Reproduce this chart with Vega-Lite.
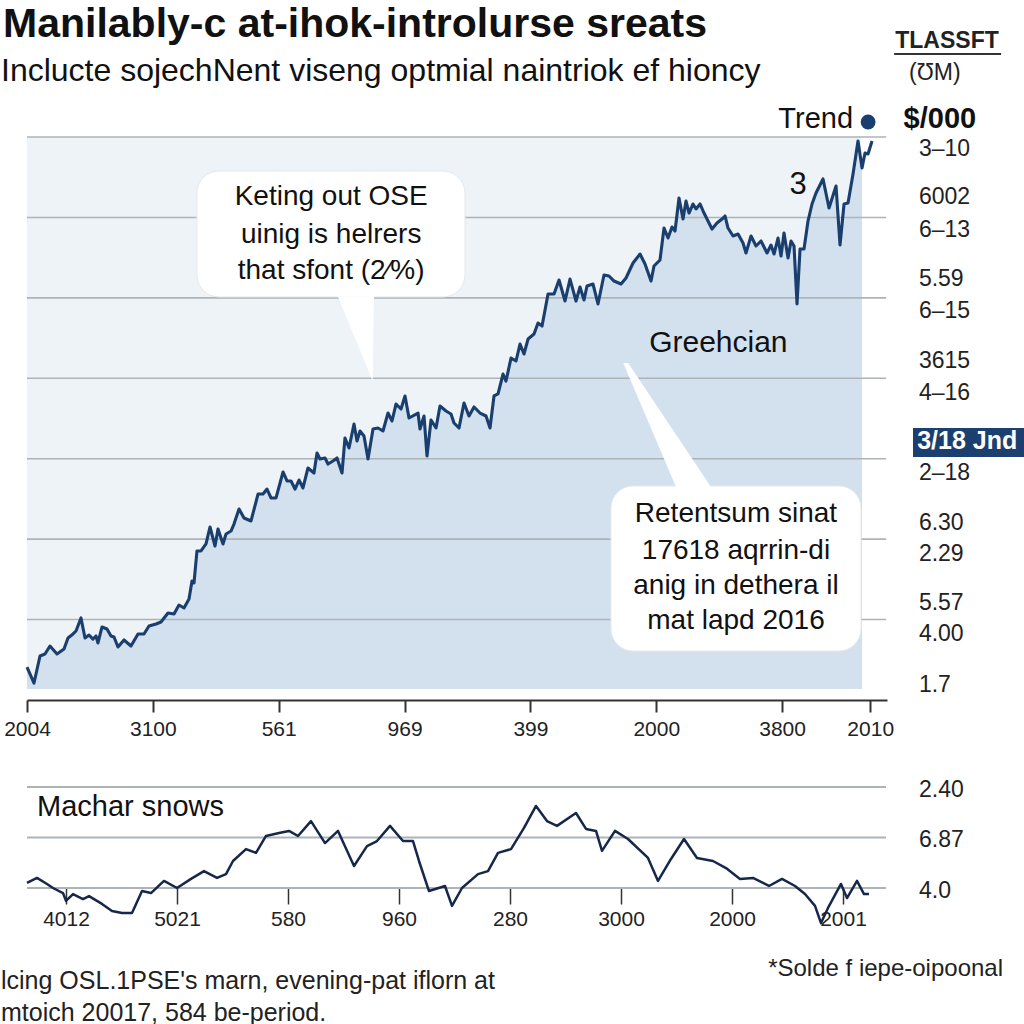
{
  "$schema": "https://vega.github.io/schema/vega-lite/v6.json",
  "padding": 0,
  "autosize": {"type": "pad"},
  "background": "white",
  "bounds": "flush",
  "spacing": 87,
  "config": {"view": {"stroke": null}, "font": "Liberation Sans"},
  "datasets": {
    "main": [
      {"t":0,"v":41},{"t":1.67,"v":21.1},{"t":3.1,"v":54.7},{"t":4.29,"v":57.2},{"t":5.48,"v":67.1},{"t":7.15,"v":57.2},{"t":8.82,"v":63.4},{"t":9.77,"v":77.1},{"t":10.97,"v":82.1},{"t":11.68,"v":85.8},{"t":12.87,"v":102},{"t":13.83,"v":77.1},{"t":14.78,"v":80.8},{"t":15.73,"v":75.8},{"t":16.45,"v":79.6},{"t":16.92,"v":70.9},{"t":17.88,"v":90.8},{"t":19.07,"v":88.3},{"t":20.02,"v":79.6},{"t":20.74,"v":78.3},{"t":21.69,"v":65.9},{"t":23.12,"v":74.6},{"t":24.79,"v":67.1},{"t":26.46,"v":82.1},{"t":27.89,"v":82.1},{"t":29.08,"v":92},{"t":30.75,"v":94.5},{"t":31.94,"v":97},{"t":33.61,"v":108.2},{"t":35.04,"v":106.9},{"t":36.23,"v":118.1},{"t":37.43,"v":114.4},{"t":38.62,"v":125.6},{"t":39.33,"v":148},{"t":39.81,"v":145.5},{"t":40.52,"v":185.3},{"t":41.48,"v":185.3},{"t":42.67,"v":194},{"t":43.62,"v":215.1},{"t":44.82,"v":191.5},{"t":45.53,"v":212.6},{"t":46.72,"v":194},{"t":47.44,"v":206.4},{"t":48.63,"v":210.1},{"t":49.34,"v":218.8},{"t":50.54,"v":237.5},{"t":51.73,"v":226.3},{"t":53.4,"v":222.6},{"t":55.07,"v":256.1},{"t":56.26,"v":256.1},{"t":57.21,"v":262.3},{"t":58.16,"v":251.2},{"t":59.36,"v":251.2},{"t":61.03,"v":283.5},{"t":61.98,"v":272.3},{"t":62.93,"v":272.3},{"t":63.89,"v":262.3},{"t":64.84,"v":273.5},{"t":65.79,"v":263.6},{"t":66.98,"v":288.5},{"t":68.41,"v":282.2},{"t":69.13,"v":307.1},{"t":69.84,"v":299.6},{"t":71.04,"v":300.9},{"t":71.75,"v":293.4},{"t":72.94,"v":297.2},{"t":73.9,"v":300.9},{"t":75.09,"v":282.2},{"t":75.8,"v":325.8},{"t":76.76,"v":313.3},{"t":77.95,"v":343.2},{"t":78.66,"v":322},{"t":79.38,"v":334.5},{"t":80.33,"v":328.2},{"t":81.29,"v":299.6},{"t":82.48,"v":336.9},{"t":83.67,"v":338.2},{"t":84.86,"v":334.5},{"t":86.06,"v":356.8},{"t":87.01,"v":346.9},{"t":87.96,"v":368},{"t":89.15,"v":361.8},{"t":90.11,"v":378},{"t":91.06,"v":350.6},{"t":93.21,"v":356.8},{"t":93.68,"v":336.9},{"t":94.64,"v":353.1},{"t":95.35,"v":303.4},{"t":96.31,"v":348.1},{"t":97.5,"v":338.2},{"t":98.45,"v":365.5},{"t":99.88,"v":359.3},{"t":101.07,"v":355.6},{"t":101.79,"v":344.4},{"t":102.98,"v":338.2},{"t":104.17,"v":369.3},{"t":105.36,"v":353.1},{"t":106.56,"v":364.3},{"t":107.99,"v":356.8},{"t":109.42,"v":353.1},{"t":110.37,"v":338.2},{"t":111.32,"v":378},{"t":112.28,"v":380.5},{"t":113.47,"v":405.3},{"t":114.18,"v":396.6},{"t":115.38,"v":425.2},{"t":116.57,"v":421.5},{"t":117.52,"v":442.6},{"t":118.47,"v":430.2},{"t":119.43,"v":448.8},{"t":120.86,"v":455.1},{"t":121.81,"v":468.7},{"t":122.77,"v":465},{"t":124.2,"v":504.8},{"t":125.63,"v":504.8},{"t":126.82,"v":522.2},{"t":128.25,"v":496.1},{"t":129.44,"v":523.4},{"t":130.87,"v":496.1},{"t":131.82,"v":513.5},{"t":132.78,"v":497.3},{"t":133.49,"v":514.7},{"t":134.92,"v":517.2},{"t":136.11,"v":492.4},{"t":137.54,"v":528.4},{"t":138.74,"v":527.2},{"t":139.93,"v":520.9},{"t":141.6,"v":517.2},{"t":142.79,"v":524.7},{"t":144.46,"v":543.3},{"t":146.13,"v":554.5},{"t":147.32,"v":542.1},{"t":148.75,"v":520.9},{"t":149.46,"v":539.6},{"t":150.89,"v":547.1},{"t":151.85,"v":586.8},{"t":152.8,"v":574.4},{"t":153.75,"v":588.1},{"t":154.47,"v":583.1},{"t":155.42,"v":624.1},{"t":156.38,"v":598},{"t":157.09,"v":620.4},{"t":157.81,"v":605.5},{"t":158.76,"v":616.7},{"t":159.48,"v":610.5},{"t":160.43,"v":616.7},{"t":161.38,"v":605.5},{"t":163.29,"v":585.6},{"t":164.48,"v":593.1},{"t":165.67,"v":598},{"t":166.39,"v":601.8},{"t":167.1,"v":586.8},{"t":168.3,"v":576.9},{"t":169.49,"v":579.4},{"t":170.68,"v":568.2},{"t":171.39,"v":555.8},{"t":172.59,"v":576.9},{"t":173.78,"v":564.5},{"t":174.97,"v":570.7},{"t":176.4,"v":555.8},{"t":177.35,"v":565.7},{"t":178.07,"v":554.5},{"t":179.02,"v":574.4},{"t":179.74,"v":552},{"t":180.45,"v":580.6},{"t":181.41,"v":549.5},{"t":182.12,"v":570.7},{"t":182.84,"v":564.5},{"t":183.55,"v":492.4},{"t":184.27,"v":560.7},{"t":185.22,"v":560.7},{"t":186.17,"v":595.5},{"t":187.13,"v":616.7},{"t":188.08,"v":630.4},{"t":189.75,"v":647.8},{"t":191.18,"v":611.7},{"t":192.85,"v":639.1},{"t":193.8,"v":565.7},{"t":194.76,"v":616.7},{"t":195.71,"v":617.9},{"t":196.9,"v":654},{"t":198.09,"v":695},{"t":199.05,"v":661.4},{"t":199.76,"v":680.1},{"t":200.48,"v":678.9},{"t":201.43,"v":695}
    ],
    "sub": [
      {"u":0,"w":22},{"u":1,"w":24},{"u":2,"w":21.6},{"u":2.6,"w":20},{"u":3.6,"w":18},{"u":3.9,"w":14.9},{"u":4.6,"w":17.6},{"u":5.6,"w":15.6},{"u":6.2,"w":16.8},{"u":7.5,"w":13.7},{"u":8.5,"w":10.9},{"u":9.5,"w":10.1},{"u":10.5,"w":10.1},{"u":11.5,"w":18.8},{"u":12.4,"w":18},{"u":13.7,"w":22.8},{"u":15,"w":20},{"u":16.4,"w":23.6},{"u":17.7,"w":26.7},{"u":19,"w":24},{"u":19.9,"w":25.5},{"u":20.6,"w":30.7},{"u":21.9,"w":35.4},{"u":22.9,"w":33.9},{"u":23.9,"w":40.6},{"u":25.2,"w":41.8},{"u":26.2,"w":42.6},{"u":27.1,"w":40.6},{"u":28.4,"w":46.5},{"u":29.8,"w":37.8},{"u":31.1,"w":42.6},{"u":32.7,"w":28.7},{"u":34,"w":36.6},{"u":35,"w":38.6},{"u":36.3,"w":44.6},{"u":37.6,"w":38.6},{"u":38.6,"w":38.6},{"u":39.2,"w":30.7},{"u":40.2,"w":18.8},{"u":41.8,"w":20.8},{"u":42.5,"w":12.9},{"u":43.5,"w":20},{"u":45.1,"w":25.5},{"u":46.1,"w":26.7},{"u":47.1,"w":33.9},{"u":48.4,"w":35.4},{"u":49.7,"w":43.8},{"u":50.9,"w":52.5},{"u":52,"w":46.5},{"u":53,"w":44.6},{"u":54.9,"w":49.7},{"u":55.9,"w":43.4},{"u":56.9,"w":42.6},{"u":57.5,"w":34.7},{"u":58.8,"w":42.6},{"u":60.1,"w":39.4},{"u":62.1,"w":31.9},{"u":63.1,"w":22.8},{"u":64.4,"w":31.5},{"u":65.7,"w":39.4},{"u":67,"w":31.9},{"u":68.6,"w":30.7},{"u":69.9,"w":27.9},{"u":71.3,"w":23.6},{"u":72.6,"w":24},{"u":74.2,"w":20.8},{"u":75.5,"w":23.6},{"u":76.8,"w":20.8},{"u":77.8,"w":17.6},{"u":78.8,"w":12.9},{"u":79.4,"w":6.1},{"u":80.1,"w":12.1},{"u":81.4,"w":21.6},{"u":82,"w":16},{"u":83,"w":22.8},{"u":83.7,"w":17.6},{"u":84.2,"w":17.6}
    ]
  },
  "vconcat": [
    {
      "width": 860,
      "height": 563,
      "encoding": {
        "x": {"field": "t", "type": "quantitative", "scale": {"domain": [0, 205], "nice": false, "zero": false},
          "axis": {"values": [0, 30, 60, 90, 120, 150, 180, 201], "title": null, "grid": false,
            "labelExpr": "datum.value < 10 ? '2004' : datum.value < 40 ? '3100' : datum.value < 70 ? '561' : datum.value < 100 ? '969' : datum.value < 130 ? '399' : datum.value < 160 ? '2000' : datum.value < 190 ? '3800' : '2010'",
            "domainColor": "#333", "domainWidth": 2, "tickColor": "#333", "tickWidth": 2, "tickSize": 12,
            "labelFontSize": 21, "labelColor": "#222", "labelPadding": 6, "labelFlush": false, "labelOverlap": false}},
        "y": {"field": "v", "type": "quantitative", "scale": {"domain": [0, 700], "nice": false, "zero": false}, "axis": null}
      },
      "layer": [
        {"data": {"values": [{"t": -6.198, "t2": 237.9, "v": 869.1, "v2": -404.1}]},
         "mark": {"type": "rect", "fill": "white", "opacity": 0},
         "encoding": {"x2": {"field": "t2"}, "y2": {"field": "v2"}}},
        {"data": {"values": [{"t": 0, "t2": 198.8, "v": 13.7, "v2": 700}]},
         "mark": {"type": "rect", "fill": "#eef3f8"},
         "encoding": {"x2": {"field": "t2"}, "y2": {"field": "v2"}}},
        {"data": {"name": "main"}, "transform": [{"filter": "datum.t <= 199.1"}],
         "mark": {"type": "area", "color": "#d3e1ef", "opacity": 1},
         "encoding": {"y2": {"datum": 13.7}}},
        {"data": {"values": [{"t": 0, "t2": 204.8, "v": 100}, {"t": 0, "t2": 204.8, "v": 200}, {"t": 0, "t2": 204.8, "v": 300}, {"t": 0, "t2": 204.8, "v": 400}, {"t": 0, "t2": 204.8, "v": 500}, {"t": 0, "t2": 204.8, "v": 600}, {"t": 0, "t2": 204.8, "v": 700}]},
         "mark": {"type": "rule", "color": "#aeb3b8", "strokeWidth": 1.6},
         "encoding": {"x2": {"field": "t2"}}},
        {"data": {"name": "main"},
         "mark": {"type": "line", "color": "#1a3f6e", "strokeWidth": 3.1, "strokeJoin": "round"},
         "encoding": {}},
        {"data": {"values": [{"t": 40.5, "t2": 104.4, "v": 657.7, "v2": 501.1}, {"t": 139.2, "t2": 198.8, "v": 266.1, "v2": 60.9}]},
         "mark": {"type": "rect", "fill": "white", "cornerRadius": 22, "stroke": "#e4e8ec", "strokeWidth": 1},
         "encoding": {"x2": {"field": "t2"}, "y2": {"field": "v2"}}},
        {"data": {"values": [{"t": 78.4, "v": 448.8}]},
         "mark": {"type": "point", "filled": true, "fill": "white", "opacity": 1, "strokeWidth": 0, "size": 7056, "shape": "M -0.43 -1.02 L 0.43 -1.02 L 0.4 1 Z"},
         "encoding": {}},
        {"data": {"values": [{"t": 152.1, "v": 342.5}]},
         "mark": {"type": "point", "filled": true, "fill": "white", "opacity": 1, "strokeWidth": 0, "size": 15129, "shape": "M -0.68 -1 L -0.6 -1 L 0.75 1.02 L 0.18 1.02 Z"},
         "encoding": {}},
        {"data": {"values": [{"t": 211.2, "t2": 237.9, "v": 338.2, "v2": 302.1}]},
         "mark": {"type": "rect", "fill": "#1b3f6e"},
         "encoding": {"x2": {"field": "t2"}, "y2": {"field": "v2"}}},
        {"data": {"values": [{"t": 200.5, "v": 718.6}]},
         "mark": {"type": "point", "filled": true, "color": "#1a3f6e", "opacity": 1, "size": 220, "shape": "circle"},
         "encoding": {}},
        {"data": {"values": [{"t": -5.72, "v": 839.2, "label": "Manilably-c at-ihok-introlurse sreats"}]},
         "mark": {"type": "text", "align": "left", "baseline": "middle", "fontSize": 41, "fontWeight": "bold", "color": "#111"},
         "encoding": {"text": {"field": "label"}}},
        {"data": {"values": [{"t": -6.2, "v": 782, "label": "Inclucte sojechNent viseng optmial naintriok ef hioncy"}]},
         "mark": {"type": "text", "align": "left", "baseline": "middle", "fontSize": 32, "color": "#111"},
         "encoding": {"text": {"field": "label"}}},
        {"data": {"values": [{"t": 219.3, "v": 819.3, "label": "TLASSFT"}]},
         "mark": {"type": "text", "align": "center", "baseline": "middle", "fontSize": 23, "fontWeight": "bold", "color": "#222"},
         "encoding": {"text": {"field": "label"}}},
        {"data": {"values": [{"t": 206.7, "t2": 232.2, "v": 803.2}]},
         "mark": {"type": "rule", "color": "#333", "strokeWidth": 2},
         "encoding": {"x2": {"field": "t2"}}},
        {"data": {"values": [{"t": 216.4, "v": 779.6, "label": "(ƱM)"}]},
         "mark": {"type": "text", "align": "center", "baseline": "middle", "fontSize": 23, "color": "#222"},
         "encoding": {"text": {"field": "label"}}},
        {"data": {"values": [{"t": 196.9, "v": 722.4, "label": "Trend"}]},
         "mark": {"type": "text", "align": "right", "baseline": "middle", "fontSize": 29, "color": "#111"},
         "encoding": {"text": {"field": "label"}}},
        {"data": {"values": [{"t": 217.6, "v": 722.4, "label": "$/000"}]},
         "mark": {"type": "text", "align": "center", "baseline": "middle", "fontSize": 29, "fontWeight": "bold", "color": "#111"},
         "encoding": {"text": {"field": "label"}}},
        {"data": {"values": [
          {"t": 212.6, "v": 685.1, "label": "3–10"}, {"t": 212.6, "v": 625.4, "label": "6002"}, {"t": 212.6, "v": 584.4, "label": "6–13"},
          {"t": 212.6, "v": 523.4, "label": "5.59"}, {"t": 212.6, "v": 483.6, "label": "6–15"}, {"t": 212.6, "v": 421.5, "label": "3615"},
          {"t": 212.6, "v": 381.7, "label": "4–16"}, {"t": 212.6, "v": 282.2, "label": "2–18"}, {"t": 212.6, "v": 220.1, "label": "6.30"},
          {"t": 212.6, "v": 181.5, "label": "2.29"}, {"t": 212.6, "v": 120.6, "label": "5.57"}, {"t": 212.6, "v": 82.1, "label": "4.00"},
          {"t": 212.6, "v": 18.6, "label": "1.7"}]},
         "mark": {"type": "text", "align": "left", "baseline": "middle", "fontSize": 23, "color": "#222"},
         "encoding": {"text": {"field": "label"}}},
        {"data": {"values": [{"t": 212.2, "v": 321.5, "label": "3/18 Jnd"}]},
         "mark": {"type": "text", "align": "left", "baseline": "middle", "fontSize": 25, "fontWeight": "bold", "color": "white"},
         "encoding": {"text": {"field": "label"}}},
        {"data": {"values": [
          {"t": 72.5, "v": 625.4, "label": "Keting out OSE"}, {"t": 72.5, "v": 578.1, "label": "uinig is helrers"}, {"t": 72.5, "v": 533.4, "label": "that sfont (2⁄%)"},
          {"t": 169, "v": 231.3, "label": "Retentsum sinat"}, {"t": 169, "v": 185.3, "label": "17618 aqrrin-di"}, {"t": 169, "v": 141.7, "label": "anig in dethera il"}, {"t": 169, "v": 98.2, "label": "mat lapd 2016"}]},
         "mark": {"type": "text", "align": "center", "baseline": "middle", "fontSize": 28, "color": "#111"},
         "encoding": {"text": {"field": "label"}}},
        {"data": {"values": [{"t": 148.3, "v": 443.9, "label": "Greehcian"}]},
         "mark": {"type": "text", "align": "left", "baseline": "middle", "fontSize": 30, "color": "#111"},
         "encoding": {"text": {"field": "label"}}},
        {"data": {"values": [{"t": 183.8, "v": 640.3, "label": "3"}]},
         "mark": {"type": "text", "align": "center", "baseline": "middle", "fontSize": 31, "color": "#111"},
         "encoding": {"text": {"field": "label"}}}
      ]
    },
    {
      "width": 860,
      "height": 101,
      "encoding": {
        "x": {"field": "u", "type": "quantitative", "scale": {"domain": [0, 86], "nice": false, "zero": false},
          "axis": {"values": [3.9, 15, 26.1, 37.2, 48.3, 59.4, 70.5, 81.6], "title": null, "grid": false, "domain": false,
            "labelExpr": "datum.value < 10 ? '4012' : datum.value < 20 ? '5021' : datum.value < 30 ? '580' : datum.value < 40 ? '960' : datum.value < 50 ? '280' : datum.value < 65 ? '3000' : datum.value < 75 ? '2000' : '2001'",
            "tickColor": "#333", "tickWidth": 1.5, "tickSize": 16, "labelFontSize": 21, "labelColor": "#222", "labelPadding": 4, "labelFlush": false, "labelOverlap": false}},
        "y": {"field": "w", "type": "quantitative", "scale": {"domain": [20, 60], "nice": false, "zero": false}, "axis": null}
      },
      "layer": [
        {"data": {"values": [{"u": 0, "u2": 85.9, "w": 20}, {"u": 0, "u2": 85.9, "w": 40}, {"u": 0, "u2": 85.9, "w": 60}]},
         "mark": {"type": "rule", "color": "#aeb3b8", "strokeWidth": 2},
         "encoding": {"x2": {"field": "u2"}}},
        {"data": {"name": "sub"},
         "mark": {"type": "line", "color": "#16284a", "strokeWidth": 2.5, "strokeJoin": "round"},
         "encoding": {}},
        {"data": {"values": [{"u": 89.2, "w": 58.8, "label": "2.40"}, {"u": 89.2, "w": 39.0, "label": "6.87"}, {"u": 89.2, "w": 18.8, "label": "4.0"}]},
         "mark": {"type": "text", "align": "left", "baseline": "middle", "fontSize": 23, "color": "#222"},
         "encoding": {"text": {"field": "label"}}},
        {"data": {"values": [{"u": 1.0, "w": 52.1, "label": "Machar snows"}]},
         "mark": {"type": "text", "align": "left", "baseline": "middle", "fontSize": 29, "color": "#111"},
         "encoding": {"text": {"field": "label"}}},
        {"data": {"values": [{"u": -2.6, "w": -16.8, "label": "lcing OSL.1PSE's marn, evening-pat iflorn at"}, {"u": -2.6, "w": -29.5, "label": "mtoich 20017, 584 be-period."}]},
         "mark": {"type": "text", "align": "left", "baseline": "middle", "fontSize": 25, "color": "#222"},
         "encoding": {"text": {"field": "label"}}},
        {"data": {"values": [{"u": 97.6, "w": -12.1, "label": "*Solde f iepe-oipoonal"}]},
         "mark": {"type": "text", "align": "right", "baseline": "middle", "fontSize": 24, "color": "#222"},
         "encoding": {"text": {"field": "label"}}}
      ]
    }
  ]
}
